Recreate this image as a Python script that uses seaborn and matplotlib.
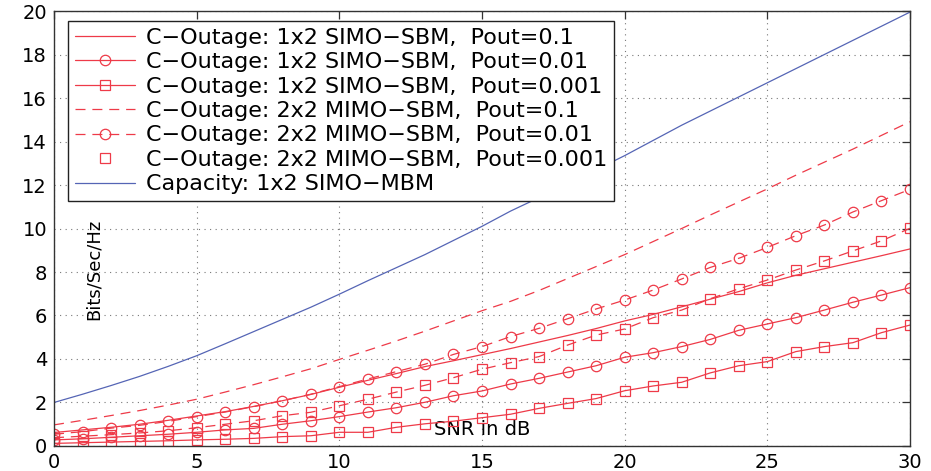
import matplotlib
matplotlib.use("Agg")
import matplotlib.pyplot as plt
import numpy as np
import seaborn as sns

# ------------------------------------------------------------
# data (SNR step 1 dB)
# ------------------------------------------------------------
snr_db = list(range(0, 31))

capacity_simo_mbm = [2.00, 2.38, 2.78, 3.20, 3.66, 4.15, 4.70, 5.26, 5.82, 6.38,
                     6.98, 7.60, 8.20, 8.80, 9.45, 10.10, 10.80, 11.42, 12.05, 12.70,
                     13.35, 14.05, 14.75, 15.40, 16.05, 16.70, 17.35, 18.00, 18.65, 19.30,
                     19.95]

simo_p01 = [0.62, 0.74, 0.86, 1.00, 1.18, 1.38, 1.58, 1.82, 2.08, 2.37,
            2.70, 3.02, 3.33, 3.65, 3.92, 4.20, 4.48, 4.78, 5.08, 5.40,
            5.75, 6.05, 6.40, 6.75, 7.10, 7.50, 7.85, 8.15, 8.45, 8.75,
            9.06]
simo_p001 = [0.28, 0.33, 0.40, 0.47, 0.54, 0.63, 0.74, 0.81, 1.00, 1.16,
             1.35, 1.56, 1.76, 2.01, 2.31, 2.53, 2.85, 3.11, 3.40, 3.69,
             4.08, 4.29, 4.57, 4.90, 5.32, 5.61, 5.90, 6.25, 6.61, 6.94,
             7.28]
simo_p0001 = [0.12, 0.15, 0.18, 0.21, 0.24, 0.28, 0.31, 0.35, 0.43, 0.47,
              0.63, 0.63, 0.86, 1.02, 1.14, 1.30, 1.46, 1.73, 1.96, 2.18,
              2.54, 2.76, 2.93, 3.36, 3.69, 3.88, 4.34, 4.57, 4.75, 5.21,
              5.56]

mimo_p01 = [0.97, 1.18, 1.40, 1.63, 1.88, 2.15, 2.48, 2.82, 3.18, 3.55,
            3.98, 4.40, 4.83, 5.28, 5.75, 6.22, 6.65, 7.15, 7.70, 8.25,
            8.80, 9.40, 10.00, 10.62, 11.22, 11.82, 12.45, 13.05, 13.65, 14.28,
            14.91]
mimo_p001 = [0.54, 0.66, 0.82, 0.95, 1.13, 1.35, 1.56, 1.81, 2.08, 2.38,
             2.73, 3.08, 3.42, 3.76, 4.21, 4.57, 5.03, 5.41, 5.85, 6.30,
             6.71, 7.17, 7.68, 8.21, 8.63, 9.13, 9.67, 10.16, 10.76, 11.28,
             11.80]
mimo_p0001 = [0.38, 0.45, 0.52, 0.60, 0.70, 0.84, 1.00, 1.16, 1.39, 1.55,
              1.85, 2.15, 2.48, 2.79, 3.14, 3.53, 3.83, 4.11, 4.64, 5.10,
              5.38, 5.90, 6.25, 6.77, 7.23, 7.63, 8.09, 8.51, 8.97, 9.43,
              10.01]

labels = [
    "C\u2212Outage: 1x2 SIMO\u2212SBM,  Pout=0.1",
    "C\u2212Outage: 1x2 SIMO\u2212SBM,  Pout=0.01",
    "C\u2212Outage: 1x2 SIMO\u2212SBM,  Pout=0.001",
    "C\u2212Outage: 2x2 MIMO\u2212SBM,  Pout=0.1",
    "C\u2212Outage: 2x2 MIMO\u2212SBM,  Pout=0.01",
    "C\u2212Outage: 2x2 MIMO\u2212SBM,  Pout=0.001",
    "Capacity: 1x2 SIMO\u2212MBM",
]

RED = "#EE3A48"
BLUE = "#5565B5"
DASH = (0, (8, 5.5))

sns.set_style("white")
plt.rcParams["font.family"] = ["DejaVu Sans"]
plt.rcParams["text.color"] = "black"
plt.rcParams["axes.labelcolor"] = "black"

fig = plt.figure(figsize=(9.31, 4.71), dpi=100)
ax = fig.add_axes([0.058, 0.0531, 0.9194, 0.9235])

common = dict(ax=ax, lw=0.9, color=RED, markersize=7.5, markeredgewidth=0.9,
              markerfacecolor="none", markeredgecolor=RED)

sns.lineplot(x=snr_db, y=simo_p01, label=labels[0], **common)
sns.lineplot(x=snr_db, y=simo_p001, marker="o", label=labels[1], **common)
sns.lineplot(x=snr_db, y=simo_p0001, marker="s", label=labels[2], **common)
sns.lineplot(x=snr_db, y=mimo_p01, linestyle=DASH, label=labels[3], **common)
sns.lineplot(x=snr_db, y=mimo_p001, marker="o", linestyle=DASH, label=labels[4], **common)
# dashed line drawn without a legend entry, markers carry the label
sns.lineplot(x=snr_db, y=mimo_p0001, linestyle=DASH, **common)
sns.lineplot(x=snr_db, y=mimo_p0001, marker="s", linestyle="none", label=labels[5], **common)
sns.lineplot(x=snr_db, y=capacity_simo_mbm, ax=ax, lw=0.9, color=BLUE, label=labels[6])

ax.set_xlim(0, 30)
ax.set_ylim(0, 20)
ax.set_xticks(np.arange(0, 31, 5))
ax.set_yticks(np.arange(0, 21, 2))
ax.grid(True, linestyle=(0, (1, 4)), color="#777777", linewidth=0.8)
ax.tick_params(direction="in", length=6, width=0.9, top=True, right=True,
               labelsize=14, pad=5, color="#333333", labelcolor="black")
for sp in ax.spines.values():
    sp.set_color("#333333")
    sp.set_linewidth(1.0)

ax.set_xlabel("SNR in dB", fontsize=14)
ax.xaxis.label.set_va("center")
ax.xaxis.set_label_coords(0.5, 0.037)
ax.set_ylabel("Bits/Sec/Hz", fontsize=13)
ax.yaxis.label.set_va("center")
ax.yaxis.set_label_coords(0.046, 0.405)

leg = ax.legend(loc="upper left", bbox_to_anchor=(0.0164, 0.977), borderaxespad=0,
                fontsize=16, frameon=True, fancybox=False, framealpha=1,
                edgecolor="#222222", handlelength=2.7, handletextpad=0.5,
                labelspacing=0.2, borderpad=0.3)
leg.get_frame().set_linewidth(1.0)

fig.savefig("out.png", dpi=100)
